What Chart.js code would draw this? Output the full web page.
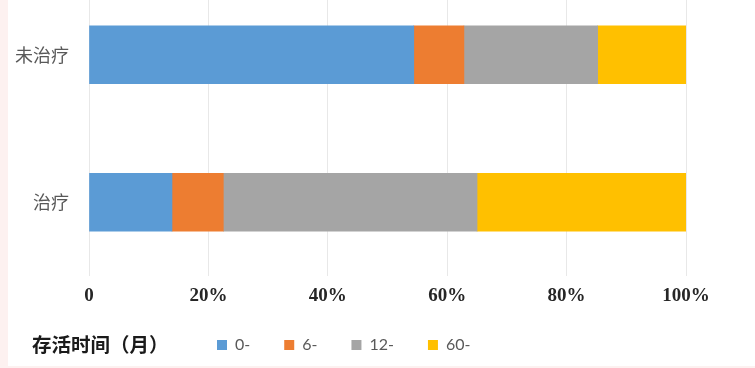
<!DOCTYPE html>
<html>
<head>
<meta charset="utf-8">
<script src="https://cdn.jsdelivr.net/npm/chart.js@4.4.1/dist/chart.umd.min.js"></script>
<style>
  html, body { margin: 0; padding: 0; background: #fff; }
  .wrap { position: relative; width: 755px; height: 368px; overflow: hidden; background: #fff; }
  .edge-left { position: absolute; left: 0; top: 0; width: 8px; height: 368px; background: #fdf1f0; }
  .edge-bottom { position: absolute; left: 0; top: 366px; width: 755px; height: 2px; background: #fdf1f0; }
  /* plot area starts above the visible frame, as in the cropped original */
  canvas { position: absolute; left: 0; top: -19px; }
</style>
</head>
<body>
<div class="wrap">
  <div class="edge-left"></div>
  <div class="edge-bottom"></div>
  <canvas id="chart" width="755" height="387"></canvas>
</div>
<script>
const categories = ['未治疗', '治疗']
const seriesNames = ['0-', '6-', '12-', '60-']
const months0 = [54.4, 13.9]
const months6 = [8.4, 8.6]
const months12 = [22.4, 42.5]
const months60 = [14.8, 35.0]
const xTicks = [0, 20, 40, 60, 80, 100]
const legendTitle = '存活时间（月）'

const colors = ['#5B9BD5', '#ED7D31', '#A5A5A5', '#FFC000']
const values = [months0, months6, months12, months60]

// legend title drawn next to the legend items, items shifted right
const legendTitlePlugin = {
  id: 'legendTitle',
  afterLayout(chart) {
    chart.legend.left = 183
  },
  afterDraw(chart) {
    const lg = chart.legend
    const box = lg.legendHitBoxes[0]
    if (!box) return
    const ctx = chart.ctx
    ctx.save()
    ctx.font = 'bold 19.5px "Noto Sans CJK SC"'
    ctx.fillStyle = '#1a1a1a'
    ctx.textBaseline = 'middle'
    ctx.textAlign = 'left'
    ctx.fillText(legendTitle, 32, box.top + box.height / 2)
    ctx.restore()
  },
}

new Chart(document.getElementById('chart'), {
  type: 'bar',
  data: {
    labels: categories,
    datasets: seriesNames.map((name, i) => ({
      label: name,
      data: values[i],
      backgroundColor: colors[i],
      borderWidth: 0,
      barThickness: 58,
    })),
  },
  options: {
    indexAxis: 'y',
    responsive: false,
    animation: false,
    layout: { padding: { top: 0, left: 0, right: 69, bottom: 5 } },
    plugins: {
      legend: {
        position: 'bottom',
        align: 'start',
        labels: {
          boxWidth: 10,
          boxHeight: 10,
          padding: 34,
          color: '#595959',
          font: { family: 'Lato', size: 16 },
        },
      },
      tooltip: { enabled: false },
    },
    scales: {
      x: {
        stacked: true,
        min: 0,
        max: 100,
        afterFit(scale) { scale.height = 27 },
        afterBuildTicks(scale) { scale.ticks = xTicks.map(v => ({ value: v })) },
        grid: { color: '#e8e8e8', drawTicks: false },
        border: { display: false },
        ticks: {
          padding: 9,
          color: '#262626',
          font: { family: 'Liberation Serif', size: 19, weight: 'bold' },
          callback: v => (v === 0 ? '0' : v + '%'),
        },
      },
      y: {
        stacked: true,
        afterFit(scale) {
          scale.width = 89
          scale.paddingTop = 0
          scale.paddingBottom = 0
        },
        grid: { display: false, drawTicks: false },
        border: { display: false },
        ticks: {
          padding: 20,
          color: '#595959',
          font: { family: 'Noto Sans CJK SC', size: 18 },
        },
      },
    },
  },
  plugins: [legendTitlePlugin],
})
</script>
</body>
</html>
